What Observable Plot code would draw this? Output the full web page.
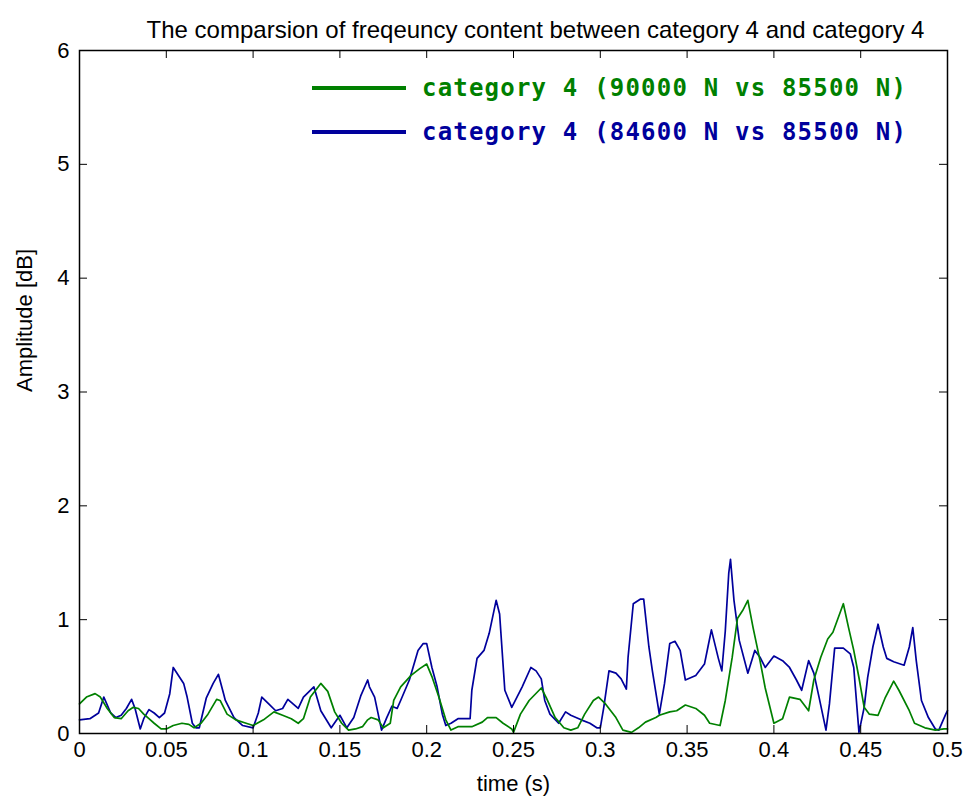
<!DOCTYPE html>
<html>
<head>
<meta charset="utf-8">
<script src="https://cdn.jsdelivr.net/npm/d3@7"></script>
<script src="https://cdn.jsdelivr.net/npm/@observablehq/plot@0.6"></script>
<style>
  html, body { margin: 0; padding: 0; background: #fff; }
  #wrap { position: relative; width: 973px; height: 807px; }
  .leg { position: absolute; left: 312px; display: flex; align-items: center;
         font-family: "DejaVu Sans Mono", monospace; font-weight: bold; font-size: 24px; letter-spacing: 1.2px; }
  .leg .ln { display: inline-block; width: 94px; height: 4px; margin-right: 16px; }
</style>
</head>
<body>
<div id="wrap"></div>
<script>
const title = "The comparsion of freqeuncy content between category 4 and category 4";
const xLabel = "time (s)";
const yLabel = "Amplitude [dB]";
const seriesNames = ["category 4 (90000 N vs 85500 N)", "category 4 (84600 N vs 85500 N)"];
const seriesColors = ["#008000", "#00009c"];
const xTicks = [0, 0.05, 0.1, 0.15, 0.2, 0.25, 0.3, 0.35, 0.4, 0.45, 0.5];
const yTicks = [0, 1, 2, 3, 4, 5, 6];

// series 1 (green): 90000 N vs 85500 N
const greenT = [0.000,0.004,0.009,0.012,0.016,0.020,0.024,0.028,0.031,0.034,0.037,0.040,0.043,0.047,0.050,0.054,0.059,0.063,0.066,0.070,0.074,0.079,0.081,0.085,0.090,0.096,0.100,0.106,0.112,0.117,0.122,0.126,0.129,0.133,0.139,0.143,0.147,0.151,0.155,0.159,0.163,0.166,0.168,0.172,0.175,0.179,0.181,0.185,0.191,0.196,0.200,0.203,0.207,0.211,0.214,0.218,0.226,0.232,0.235,0.240,0.244,0.249,0.250,0.254,0.259,0.266,0.269,0.274,0.279,0.283,0.287,0.291,0.296,0.299,0.303,0.309,0.313,0.318,0.322,0.326,0.332,0.334,0.340,0.344,0.349,0.355,0.360,0.363,0.369,0.372,0.376,0.379,0.382,0.385,0.388,0.392,0.395,0.400,0.405,0.409,0.415,0.420,0.423,0.427,0.431,0.434,0.440,0.443,0.446,0.449,0.452,0.455,0.460,0.464,0.469,0.472,0.478,0.481,0.487,0.493,0.498,0.500];
const greenA = [0.26,0.32,0.35,0.32,0.22,0.14,0.13,0.20,0.23,0.22,0.17,0.13,0.09,0.04,0.04,0.07,0.09,0.08,0.05,0.09,0.17,0.30,0.29,0.17,0.12,0.09,0.07,0.12,0.19,0.16,0.13,0.09,0.13,0.32,0.44,0.37,0.19,0.09,0.03,0.04,0.06,0.12,0.14,0.12,0.05,0.09,0.29,0.41,0.51,0.57,0.61,0.50,0.32,0.12,0.03,0.06,0.06,0.10,0.14,0.14,0.09,0.04,0.01,0.17,0.29,0.40,0.31,0.14,0.05,0.03,0.05,0.17,0.29,0.32,0.26,0.14,0.03,0.01,0.05,0.10,0.14,0.16,0.19,0.20,0.25,0.22,0.16,0.09,0.07,0.29,0.67,1.01,1.08,1.17,0.93,0.64,0.40,0.09,0.13,0.32,0.30,0.20,0.47,0.67,0.83,0.89,1.14,0.93,0.73,0.49,0.23,0.17,0.16,0.31,0.46,0.38,0.20,0.09,0.05,0.03,0.04,0.04];

// series 2 (blue): 84600 N vs 85500 N
const blueT = [0.000,0.006,0.011,0.014,0.018,0.021,0.024,0.027,0.030,0.032,0.035,0.037,0.040,0.043,0.046,0.049,0.052,0.054,0.057,0.060,0.062,0.065,0.067,0.069,0.073,0.077,0.080,0.083,0.084,0.089,0.094,0.100,0.103,0.105,0.109,0.113,0.117,0.120,0.123,0.126,0.129,0.135,0.139,0.145,0.150,0.154,0.158,0.162,0.166,0.167,0.170,0.174,0.177,0.180,0.183,0.185,0.190,0.195,0.198,0.200,0.203,0.206,0.209,0.211,0.214,0.218,0.225,0.226,0.229,0.233,0.236,0.240,0.242,0.245,0.249,0.255,0.260,0.263,0.266,0.268,0.271,0.276,0.280,0.283,0.289,0.294,0.298,0.300,0.302,0.305,0.309,0.312,0.315,0.316,0.319,0.323,0.325,0.328,0.330,0.334,0.337,0.340,0.343,0.346,0.349,0.355,0.360,0.362,0.364,0.368,0.370,0.372,0.374,0.375,0.377,0.380,0.385,0.389,0.392,0.395,0.400,0.405,0.409,0.413,0.416,0.420,0.423,0.426,0.430,0.432,0.435,0.440,0.444,0.446,0.449,0.452,0.454,0.457,0.460,0.463,0.465,0.469,0.475,0.478,0.480,0.482,0.485,0.489,0.493,0.495,0.499,0.500];
const blueA = [0.12,0.13,0.18,0.32,0.18,0.14,0.16,0.22,0.30,0.22,0.04,0.13,0.21,0.18,0.14,0.18,0.35,0.58,0.51,0.44,0.32,0.09,0.05,0.05,0.31,0.44,0.52,0.35,0.29,0.14,0.07,0.05,0.18,0.32,0.26,0.20,0.22,0.30,0.26,0.22,0.32,0.41,0.20,0.05,0.16,0.05,0.14,0.33,0.47,0.41,0.32,0.03,0.14,0.24,0.22,0.29,0.47,0.73,0.79,0.79,0.58,0.41,0.17,0.07,0.09,0.13,0.13,0.38,0.66,0.73,0.88,1.17,1.05,0.38,0.23,0.41,0.58,0.55,0.48,0.29,0.17,0.09,0.19,0.16,0.12,0.09,0.05,0.05,0.23,0.55,0.53,0.48,0.39,0.67,1.14,1.18,1.18,0.76,0.55,0.17,0.44,0.79,0.81,0.73,0.47,0.51,0.61,0.76,0.91,0.66,0.55,0.90,1.41,1.53,1.17,0.82,0.53,0.73,0.67,0.58,0.68,0.64,0.58,0.47,0.38,0.64,0.53,0.32,0.03,0.26,0.75,0.75,0.70,0.58,0.01,0.23,0.49,0.76,0.96,0.76,0.66,0.63,0.60,0.76,0.93,0.64,0.29,0.14,0.04,0.03,0.17,0.20];

const green = greenT.map((t, i) => ({t, a: greenA[i]}));
const blue = blueT.map((t, i) => ({t, a: blueA[i]}));

const W = 973, H = 807, mt = 50, mb = 74, ml = 79, mr = 26;
const innerW = W - ml - mr, innerH = H - mt - mb, tick = 8;
const fmt = d => String(+d.toFixed(2));

const chart = Plot.plot({
  width: W, height: H,
  marginTop: mt, marginBottom: mb, marginLeft: ml, marginRight: mr,
  style: {fontFamily: "Liberation Sans, Arial, sans-serif", fontSize: "22px", background: "#fff", color: "#000"},
  x: {domain: [0, 0.5]},
  y: {domain: [0, 6]},
  marks: [
    Plot.line(blue, {x: "t", y: "a", stroke: seriesColors[1], strokeWidth: 1.7}),
    Plot.line(green, {x: "t", y: "a", stroke: seriesColors[0], strokeWidth: 1.7}),
    Plot.frame({stroke: "#000", strokeWidth: 1.5}),
    Plot.tickX(xTicks, {x: d => d, insetTop: innerH - tick, stroke: "#000"}),
    Plot.tickX(xTicks, {x: d => d, insetBottom: innerH - tick, stroke: "#000"}),
    Plot.tickY(yTicks, {y: d => d, insetRight: innerW - tick, stroke: "#000"}),
    Plot.tickY(yTicks, {y: d => d, insetLeft: innerW - tick, stroke: "#000"}),
    Plot.axisX({ticks: xTicks, tickSize: 0, tickPadding: 8, tickFormat: fmt, label: null, fontSize: 22}),
    Plot.axisY({ticks: yTicks, tickSize: 0, tickPadding: 10, tickFormat: fmt, label: null, fontSize: 22}),
    Plot.text([xLabel], {frameAnchor: "bottom", dy: 57, fontSize: 22}),
    Plot.text([yLabel], {frameAnchor: "left", rotate: -90, dx: -55, fontSize: 22}),
    Plot.text([title], {frameAnchor: "top", dy: -30, dx: 22, fontSize: 24})
  ]
});

const wrap = document.getElementById("wrap");
wrap.appendChild(chart);
[ [89, 0], [133, 1] ].forEach(([top, i]) => {
  const d = document.createElement("div");
  d.className = "leg";
  d.style.top = (top - 15) + "px";
  d.style.color = seriesColors[i];
  const ln = document.createElement("span");
  ln.className = "ln";
  ln.style.background = seriesColors[i];
  d.appendChild(ln);
  d.appendChild(document.createTextNode(seriesNames[i]));
  wrap.appendChild(d);
});
</script>
</body>
</html>
